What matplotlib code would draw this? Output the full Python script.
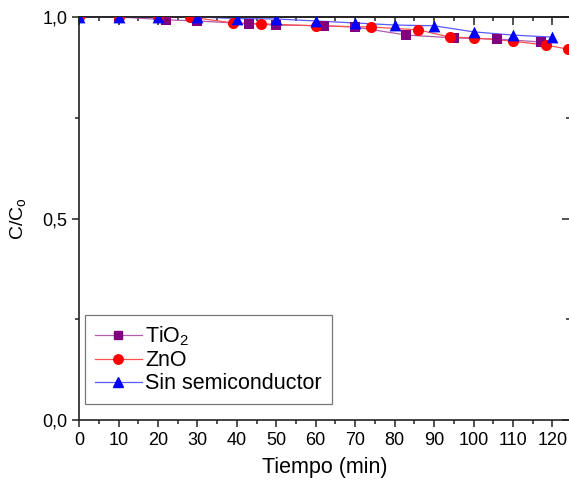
import matplotlib
matplotlib.use('Agg')
import matplotlib.pyplot as plt
from matplotlib.lines import Line2D
from matplotlib.ticker import MultipleLocator, FuncFormatter

plt.rcParams['font.family'] = ['Liberation Sans', 'DejaVu Sans']
plt.rcParams['mathtext.fontset'] = 'custom'
plt.rcParams['mathtext.rm'] = 'Liberation Sans'
plt.rcParams['mathtext.it'] = 'Liberation Sans'

# Data
t_tio2 = [0, 10, 22, 30, 43, 50, 62, 70, 83, 95, 106, 117]
c_tio2 = [1.0, 1.0, 0.993, 0.99, 0.983, 0.98, 0.978, 0.975, 0.955, 0.948, 0.945, 0.938]

t_zno = [0, 10, 20, 28, 39, 46, 60, 74, 86, 94, 100, 110, 118.5, 124]
c_zno = [1.0, 1.0, 1.0, 1.0, 0.985, 0.983, 0.978, 0.975, 0.968, 0.95, 0.948, 0.94, 0.93, 0.92]

t_sin = [0, 10, 20, 30, 40, 50, 60, 70, 80, 90, 100, 110, 120]
c_sin = [1.0, 1.0, 1.0, 1.0, 0.996, 0.995, 0.99, 0.985, 0.98, 0.978, 0.963, 0.955, 0.95]

series = [
    (t_tio2, c_tio2, '#b05cb0', '#800080', 's', 6.5, 'TiO$_2$'),
    (t_zno, c_zno, '#ff5050', '#ff0000', 'o', 8, 'ZnO'),
    (t_sin, c_sin, '#5a5aff', '#0000ff', '^', 8.5, 'Sin semiconductor'),
]

fig = plt.figure(figsize=(5.69, 4.84), dpi=100)
ax = fig.add_axes([0.139, 0.132, 0.863, 0.833])

handles = []
for t, c, lc, mc, mk, ms, lab in series:
    ax.plot(t, c, color=lc, lw=0.9)
    # scatter so markers get cut at the axes edge like the original
    ax.scatter(t, c, s=ms ** 2, marker=mk, color=mc, linewidths=0, zorder=3)
    handles.append(Line2D([], [], color=lc, lw=0.9, marker=mk, ms=ms * 0.85,
                          mfc=mc, mec=mc, label=lab))

ax.set_xlim(0, 124.5)
ax.set_ylim(0, 1.0)
ax.xaxis.set_major_locator(MultipleLocator(10))
ax.xaxis.set_minor_locator(MultipleLocator(5))
ax.yaxis.set_major_locator(MultipleLocator(0.5))
ax.yaxis.set_minor_locator(MultipleLocator(0.25))
ax.yaxis.set_major_formatter(FuncFormatter(lambda v, p: f'{v:.1f}'.replace('.', ',')))

ax.tick_params(which='both', direction='out', labelsize=13, width=1.1, color='#222222')
ax.tick_params(which='major', length=5)
ax.tick_params(which='minor', length=3)

# top and right: ticks pointing inward, no labels
top = ax.secondary_xaxis('top')
top.xaxis.set_major_locator(MultipleLocator(10))
top.xaxis.set_minor_locator(MultipleLocator(5))
top.tick_params(which='both', direction='in', labeltop=False, width=1.1, color='#222222')
top.tick_params(which='major', length=6)
top.tick_params(which='minor', length=3)
right = ax.secondary_yaxis('right')
right.yaxis.set_major_locator(MultipleLocator(0.5))
right.yaxis.set_minor_locator(MultipleLocator(0.25))
right.tick_params(which='both', direction='in', labelright=False, width=1.1, color='#222222')
right.tick_params(which='major', length=6)
right.tick_params(which='minor', length=3)
for a in (ax, top, right):
    for s in a.spines.values():
        s.set_linewidth(1.2)
        s.set_color('#222222')

ax.set_xlabel('Tiempo (min)', fontsize=15.5, labelpad=6)
ax.set_ylabel('C/C$_\\mathrm{o}$', fontsize=14, labelpad=10)

leg = ax.legend(handles=handles, loc='lower left', bbox_to_anchor=(0.012, 0.04),
                borderaxespad=0, fontsize=15.5, frameon=True, fancybox=False,
                edgecolor='#555555', handlelength=2.2, handletextpad=0.15,
                borderpad=0.45, labelspacing=0.1)
leg.get_frame().set_linewidth(0.9)

fig.savefig('out.png', dpi=100)
